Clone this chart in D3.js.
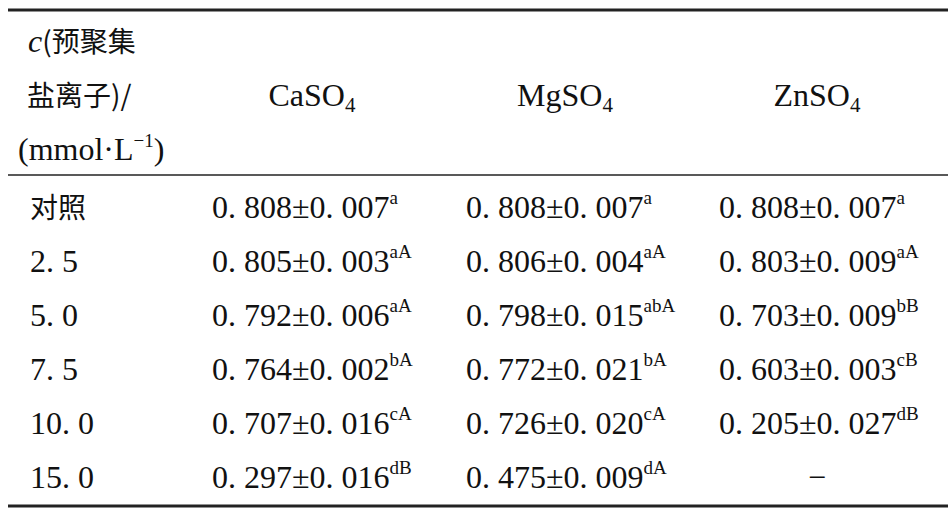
<!DOCTYPE html>
<html><head><meta charset="utf-8">
<script src="https://cdn.jsdelivr.net/npm/d3@7"></script>
<style>body{margin:0;background:#fff}</style></head>
<body><svg id="c" width="952" height="512"></svg>
<script>
const categories = ["对照","2. 5","5. 0","7. 5","10. 0","15. 0"];
const seriesNames = ["CaSO","MgSO","ZnSO"];
const caVals = [["0. 808±0. 007","a"],["0. 805±0. 003","aA"],["0. 792±0. 006","aA"],["0. 764±0. 002","bA"],["0. 707±0. 016","cA"],["0. 297±0. 016","dB"]];
const mgVals = [["0. 808±0. 007","a"],["0. 806±0. 004","aA"],["0. 798±0. 015","abA"],["0. 772±0. 021","bA"],["0. 726±0. 020","cA"],["0. 475±0. 009","dA"]];
const znVals = [["0. 808±0. 007","a"],["0. 803±0. 009","aA"],["0. 703±0. 009","bB"],["0. 603±0. 003","cB"],["0. 205±0. 027","dB"],null];
const series=[caVals,mgVals,znVals];
const svg=d3.select("#c");
const serif="'Liberation Serif','Times New Roman',serif";
const cjk="'Noto Sans CJK SC',sans-serif";
const y=d3.scaleBand().domain(categories).range([180,504]);
const colX=d3.scaleOrdinal().domain(seriesNames).range([212,466,719]);
const colC=d3.scaleOrdinal().domain(seriesNames).range([312,565,817]);
svg.append("line").attr("x1",8).attr("x2",948).attr("y1",10).attr("y2",10).attr("stroke","#222").attr("stroke-width",3);
svg.append("line").attr("x1",8).attr("x2",948).attr("y1",175).attr("y2",175).attr("stroke","#222").attr("stroke-width",1.6);
svg.append("line").attr("x1",8).attr("x2",948).attr("y1",506).attr("y2",506).attr("stroke","#222").attr("stroke-width",3);
const h1=svg.append("text").attr("x",28).attr("y",52).attr("font-size",32).attr("fill","#111");
h1.append("tspan").attr("font-family",serif).attr("font-style","italic").text("c");
h1.append("tspan").attr("font-family",cjk).attr("font-size",28).text("(预聚集");
svg.append("text").attr("x",27).attr("y",106).attr("font-family",cjk).attr("font-size",28).attr("fill","#111").text("盐离子)/");
const h3=svg.append("text").attr("x",18).attr("y",160).attr("font-size",32).attr("fill","#111").attr("font-family",serif);
h3.append("tspan").text("(mmol·L");
h3.append("tspan").attr("font-size",19).attr("dy",-13).text("−1");
h3.append("tspan").attr("dy",13).text(")");
seriesNames.forEach(s=>{
  const t=svg.append("text").attr("x",colC(s)).attr("y",106).attr("text-anchor","middle").attr("font-family",serif).attr("font-size",32).attr("fill","#111");
  t.append("tspan").text(s);
  t.append("tspan").attr("font-size",21).attr("dy",6).text("4");
});
categories.forEach((c,i)=>{
  const cy=y(c)+y.bandwidth()/2+11;
  const isCjk=/[\u4e00-\u9fff]/.test(c);
  svg.append("text").attr("x",30).attr("y",cy).attr("font-family",isCjk?cjk:serif).attr("font-size",isCjk?28:32).attr("fill","#111").text(c);
  series.forEach((arr,j)=>{
    const s=seriesNames[j], v=arr[i];
    if(!v){svg.append("text").attr("x",colC(s)).attr("y",cy).attr("text-anchor","middle").attr("font-family",serif).attr("font-size",32).attr("fill","#111").text("−");return;}
    const t=svg.append("text").attr("x",colX(s)).attr("y",cy).attr("font-family",serif).attr("font-size",32).attr("fill","#111");
    t.append("tspan").text(v[0]);
    t.append("tspan").attr("font-size",19).attr("dy",-14).text(v[1]);
  });
});
</script></body></html>
